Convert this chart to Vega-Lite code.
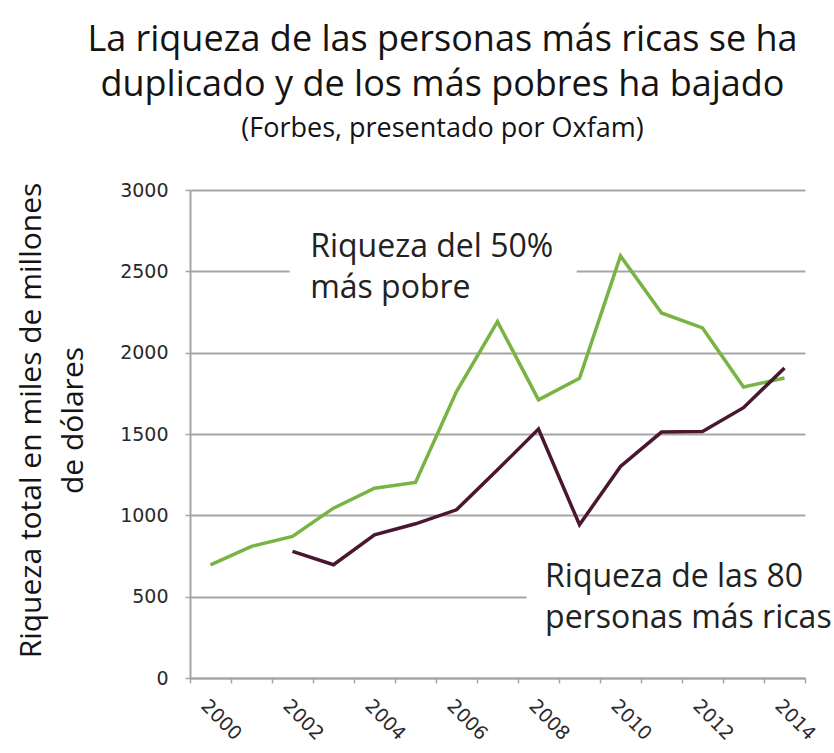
{
  "$schema": "https://vega.github.io/schema/vega-lite/v6.json",
  "width": 615,
  "height": 488,
  "autosize": {"type": "none"},
  "padding": {"left": 190, "top": 190, "right": 29, "bottom": 75},
  "background": "white",
  "config": {"view": {"stroke": null}},
  "title": {
    "text": ["La riqueza de las personas más ricas se ha", "duplicado y de los más pobres ha bajado"],
    "subtitle": "(Forbes, presentado por Oxfam)",
    "font": "Open Sans",
    "fontSize": 36,
    "fontWeight": "normal",
    "color": "#141414",
    "lineHeight": 45,
    "subtitleFont": "Open Sans",
    "subtitleFontSize": 27,
    "subtitleColor": "#141414",
    "subtitleLineHeight": 31,
    "subtitlePadding": 12,
    "anchor": "middle",
    "dx": -55,
    "offset": 38
  },
  "datasets": {
    "wealth": [
      {"year": 2000, "value": 696, "series": "Riqueza del 50% más pobre"},
      {"year": 2001, "value": 809, "series": "Riqueza del 50% más pobre"},
      {"year": 2002, "value": 870, "series": "Riqueza del 50% más pobre"},
      {"year": 2003, "value": 1044, "series": "Riqueza del 50% más pobre"},
      {"year": 2004, "value": 1167, "series": "Riqueza del 50% más pobre"},
      {"year": 2005, "value": 1202, "series": "Riqueza del 50% más pobre"},
      {"year": 2006, "value": 1761, "series": "Riqueza del 50% más pobre"},
      {"year": 2007, "value": 2191, "series": "Riqueza del 50% más pobre"},
      {"year": 2008, "value": 1710, "series": "Riqueza del 50% más pobre"},
      {"year": 2009, "value": 1843, "series": "Riqueza del 50% más pobre"},
      {"year": 2010, "value": 2595, "series": "Riqueza del 50% más pobre"},
      {"year": 2011, "value": 2244, "series": "Riqueza del 50% más pobre"},
      {"year": 2012, "value": 2152, "series": "Riqueza del 50% más pobre"},
      {"year": 2013, "value": 1789, "series": "Riqueza del 50% más pobre"},
      {"year": 2014, "value": 1844, "series": "Riqueza del 50% más pobre"},
      {"year": 2002, "value": 778, "series": "Riqueza de las 80 personas más ricas"},
      {"year": 2003, "value": 696, "series": "Riqueza de las 80 personas más ricas"},
      {"year": 2004, "value": 880, "series": "Riqueza de las 80 personas más ricas"},
      {"year": 2005, "value": 948, "series": "Riqueza de las 80 personas más ricas"},
      {"year": 2006, "value": 1034, "series": "Riqueza de las 80 personas más ricas"},
      {"year": 2007, "value": 1280, "series": "Riqueza de las 80 personas más ricas"},
      {"year": 2008, "value": 1530, "series": "Riqueza de las 80 personas más ricas"},
      {"year": 2009, "value": 942, "series": "Riqueza de las 80 personas más ricas"},
      {"year": 2010, "value": 1300, "series": "Riqueza de las 80 personas más ricas"},
      {"year": 2011, "value": 1512, "series": "Riqueza de las 80 personas más ricas"},
      {"year": 2012, "value": 1515, "series": "Riqueza de las 80 personas más ricas"},
      {"year": 2013, "value": 1662, "series": "Riqueza de las 80 personas más ricas"},
      {"year": 2014, "value": 1906, "series": "Riqueza de las 80 personas más ricas"}
    ],
    "annotations": [
      {"key": "pobre", "year": 2002.43, "value": 2588, "line1": "Riqueza del 50%", "line2": "más pobre"},
      {"key": "ricas", "year": 2008.16, "value": 559, "line1": "Riqueza de las 80", "line2": "personas más ricas"}
    ]
  },
  "encoding": {
    "x": {
      "field": "year",
      "type": "quantitative",
      "scale": {"domain": [1999.5, 2014.5], "nice": false, "zero": false},
      "axis": {
        "title": null,
        "values": [1999.5, 2000.5, 2001.5, 2002.5, 2003.5, 2004.5, 2005.5, 2006.5, 2007.5, 2008.5, 2009.5, 2010.5, 2011.5, 2012.5, 2013.5, 2014.5],
        "labelExpr": "(datum.value + 0.5) % 2 == 0 && datum.value < 2014 ? '' + (datum.value + 0.5) : ''",
        "labelOffset": 20,
        "labelAngle": 45,
        "labelAlign": "left",
        "labelBaseline": "top",
        "labelFont": "DejaVu Sans",
        "labelFontSize": 19,
        "labelColor": "#2a2a2a",
        "labelPadding": 13,
        "labelOverlap": false,
        "labelFlush": false,
        "labelBound": false,
        "grid": false,
        "domainColor": "#a6a6a6",
        "domainWidth": 2,
        "tickColor": "#a6a6a6",
        "tickWidth": 1.5,
        "tickSize": 5
      }
    },
    "y": {
      "field": "value",
      "type": "quantitative",
      "scale": {"domain": [0, 3000], "nice": false},
      "axis": {
        "title": ["Riqueza total en miles de millones", "de dólares"],
        "titleFont": "Open Sans",
        "titleFontSize": 30,
        "titleFontWeight": "normal",
        "titleColor": "#141414",
        "titleAngle": -90,
        "titleAlign": "center",
        "titleBaseline": "top",
        "titleX": -174,
        "titleY": 230,
        "titleLineHeight": 42,
        "values": [0, 500, 1000, 1500, 2000, 2500, 3000],
        "format": "d",
        "labelFont": "DejaVu Sans",
        "labelFontSize": 19,
        "labelColor": "#2a2a2a",
        "labelPadding": 17,
        "grid": true,
        "gridColor": "#a6a6a6",
        "gridWidth": 2,
        "domainColor": "#a6a6a6",
        "domainWidth": 2,
        "tickColor": "#a6a6a6",
        "tickWidth": 1.5,
        "tickSize": 5
      }
    }
  },
  "layer": [
    {
      "data": {"name": "annotations"},
      "transform": [{"filter": "datum.key == 'pobre'"}],
      "mark": {"type": "point", "filled": true, "fill": "white", "stroke": null, "strokeWidth": 0, "opacity": 1, "size": 82369, "shape": "M-1,-0.08L1,-0.08L1,0.08L-1,0.08Z", "xOffset": 123, "yOffset": 14}
    },
    {
      "data": {"name": "annotations"},
      "transform": [{"filter": "datum.key == 'ricas'"}],
      "mark": {"type": "point", "filled": true, "fill": "white", "stroke": null, "strokeWidth": 0, "opacity": 1, "size": 94249, "shape": "M-1,-0.07L1,-0.07L1,0.07L-1,0.07Z", "xOffset": 135, "yOffset": 10}
    },
    {
      "data": {"name": "wealth"},
      "mark": {"type": "line", "strokeWidth": 3.5},
      "encoding": {
        "color": {
          "field": "series",
          "type": "nominal",
          "scale": {
            "domain": ["Riqueza del 50% más pobre", "Riqueza de las 80 personas más ricas"],
            "range": ["#78b444", "#4a1630"]
          },
          "legend": null
        }
      }
    },
    {
      "data": {"name": "annotations"},
      "mark": {"type": "text", "font": "Open Sans", "fontSize": 32, "align": "left", "baseline": "alphabetic", "color": "#222222"},
      "encoding": {
        "text": {"field": "line1", "type": "nominal"}
      }
    },
    {
      "data": {"name": "annotations"},
      "mark": {"type": "text", "font": "Open Sans", "fontSize": 32, "align": "left", "baseline": "alphabetic", "color": "#222222", "dy": 41},
      "encoding": {
        "text": {"field": "line2", "type": "nominal"}
      }
    }
  ]
}
